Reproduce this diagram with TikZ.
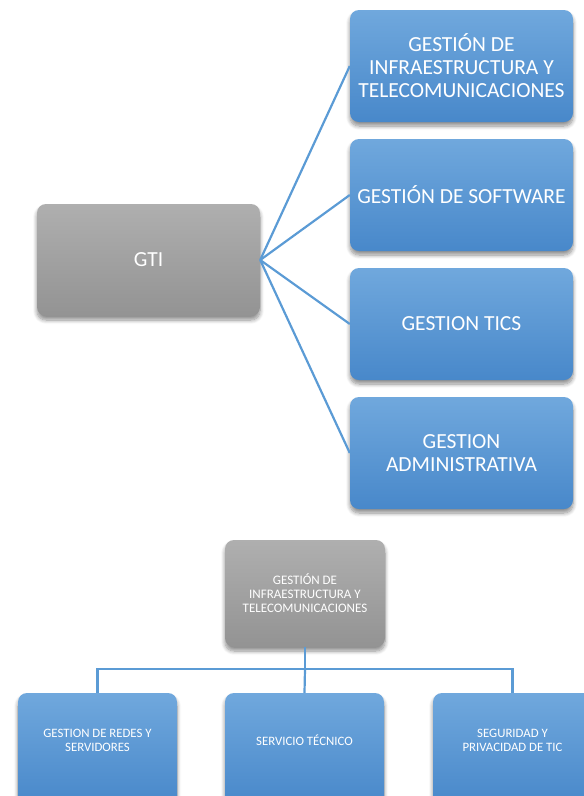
\documentclass[tikz,border=0pt]{standalone}
\usepackage{fontspec}
\setmainfont{Carlito}
\usetikzlibrary{shadows.blur}
\definecolor{bluetop}{HTML}{70A8DD}
\definecolor{bluebot}{HTML}{4888CA}
\definecolor{graytop}{HTML}{AFAFAF}
\definecolor{graybot}{HTML}{939393}
\definecolor{linkblue}{HTML}{5B9BD5}
% lines of a unit label, set a little above the middle of its box
\newcommand{\unitlabel}[1]{\raisebox{7pt}[\height][\depth]{%
  \begin{tabular}{@{}c@{}}#1\end{tabular}}}
\begin{document}
\begin{tikzpicture}[x=1pt,y=-1pt,
  box/.style={rounded corners=9pt, inner sep=4pt, align=center, text=white,
    blur shadow={shadow xshift=0pt, shadow yshift=-4pt, shadow blur steps=8,
      shadow blur radius=4pt, shadow opacity=45}},
  bluebox/.style={box, top color=bluetop, bottom color=bluebot},
  graybox/.style={box, top color=graytop, bottom color=graybot},
  bigbox/.style={minimum width=223pt, minimum height=112pt,
    font=\fontsize{21.5}{23}\selectfont},
  smallbox/.style={minimum width=159pt, minimum height=112pt,
    font=\fontsize{12.8}{13.5}\selectfont},
  link/.style={draw=linkblue, line width=2.2pt}
]
\useasboundingbox (0,0) rectangle (584,796);
\clip (0,0) rectangle (584,796);

% upper chart: GTI and its four areas
\node[graybox, bigbox] (gti) at (148.5,260) {GTI};
\node[bluebox, bigbox] (a1) at (461.5,66) {GESTIÓN DE\\INFRAESTRUCTURA Y\\TELECOMUNICACIONES};
\node[bluebox, bigbox] (a2) at (461.5,195) {GESTIÓN DE SOFTWARE};
\node[bluebox, bigbox] (a3) at (461.5,324) {GESTION TICS};
\node[bluebox, bigbox] (a4) at (461.5,453) {GESTION\\ADMINISTRATIVA};

\foreach \n in {a1,a2,a3,a4}
  \draw[link] (gti.east) -- (\n.west);

% lower chart: infrastructure area and its three units
\node[graybox, minimum width=160pt, minimum height=107pt,
  font=\fontsize{13}{14}\selectfont] (inf) at (305,593.5)
  {GESTIÓN DE\\INFRAESTRUCTURA Y\\TELECOMUNICACIONES};
\node[bluebox, smallbox] (u1) at (97.5,749) {\unitlabel{GESTION DE REDES Y\\SERVIDORES}};
\node[bluebox, smallbox] (u2) at (304.5,749) {\unitlabel{SERVICIO TÉCNICO}};
\node[bluebox, smallbox] (u3) at (512.5,749) {\unitlabel{SEGURIDAD Y\\PRIVACIDAD DE TIC}};

\coordinate (bus) at (305,669);
\draw[link] (inf.south) -- (bus);
\draw[link] (bus) -| (u1.north);
\draw[link] (bus) -| (u3.north);
\draw[link] (bus) -- (u2.north);
\end{tikzpicture}
\end{document}
